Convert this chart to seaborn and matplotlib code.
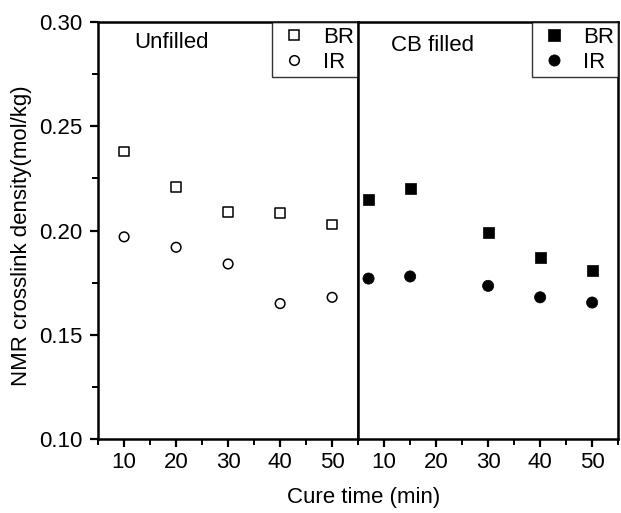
import pandas as pd
import matplotlib.pyplot as plt
import seaborn as sns
from matplotlib.ticker import MultipleLocator

# -----------------------------
# Data
# -----------------------------
unfilled_time = [10, 20, 30, 40, 50]
unfilled_br = [0.238, 0.221, 0.209, 0.2085, 0.203]
unfilled_ir = [0.197, 0.192, 0.184, 0.165, 0.168]

filled_time = [7, 15, 30, 40, 50]
filled_br = [0.215, 0.220, 0.199, 0.187, 0.181]
filled_ir = [0.177, 0.178, 0.1735, 0.168, 0.1655]

df_u = pd.DataFrame({
    "time": unfilled_time * 2,
    "density": unfilled_br + unfilled_ir,
    "rubber": ["BR"] * 5 + ["IR"] * 5,
})
df_f = pd.DataFrame({
    "time": filled_time * 2,
    "density": filled_br + filled_ir,
    "rubber": ["BR"] * 5 + ["IR"] * 5,
})

sns.set_style("ticks")
plt.rcParams["font.family"] = ["Liberation Sans", "DejaVu Sans"]
plt.rcParams["font.size"] = 16
for key in ["text.color", "axes.labelcolor", "xtick.color", "ytick.color", "axes.edgecolor"]:
    plt.rcParams[key] = "black"

fig = plt.figure(figsize=(6.21, 5.13), dpi=100)
ax1 = fig.add_axes([0.158, 0.144, 0.4187, 0.813])
ax2 = fig.add_axes([0.5767, 0.144, 0.4187, 0.813], sharey=ax1)

# Unfilled panel: open markers
sns.scatterplot(data=df_u, x="time", y="density", style="rubber",
                markers={"BR": "s", "IR": "o"}, s=48, facecolor="white",
                edgecolor="black", linewidth=1.1, ax=ax1)
# CB filled panel: solid markers
sns.scatterplot(data=df_f, x="time", y="density", style="rubber",
                markers={"BR": "s", "IR": "o"}, s=65, color="black",
                edgecolor="black", linewidth=0.5, ax=ax2)

for ax in (ax1, ax2):
    ax.set_xlim(5, 55)
    ax.set_ylim(0.10, 0.30)
    ax.xaxis.set_major_locator(MultipleLocator(10))
    ax.xaxis.set_minor_locator(MultipleLocator(5))
    ax.yaxis.set_major_locator(MultipleLocator(0.05))
    ax.yaxis.set_minor_locator(MultipleLocator(0.025))
    ax.tick_params(which="major", direction="out", length=6, width=1.6, labelsize=16)
    ax.tick_params(which="minor", direction="out", length=4, width=1.4)
    for sp in ax.spines.values():
        sp.set_visible(True)
        sp.set_linewidth(1.8)
    ax.set_xlabel("")
    ax.set_ylabel("")
    ax.set_facecolor("white")

ax1.yaxis.set_major_formatter(plt.FormatStrFormatter("%.2f"))
ax1.tick_params(axis="y", pad=5)
ax2.tick_params(axis="y", which="both", left=False, labelleft=False)

ax1.text(0.14, 0.975, "Unfilled", transform=ax1.transAxes, fontsize=16, va="top")
ax2.text(0.125, 0.97, "CB filled", transform=ax2.transAxes, fontsize=16, va="top")

for ax in (ax1, ax2):
    leg = ax.legend(loc="upper right", frameon=True, fancybox=False, fontsize=16,
                    borderaxespad=0, handletextpad=0.5, borderpad=0.2,
                    labelspacing=0.2, handlelength=1.6, title=None)
    leg.get_frame().set_edgecolor("black")
    leg.get_frame().set_linewidth(1.0)

fig.text(0.585, 0.031, "Cure time (min)", ha="center", va="center", fontsize=16)
fig.text(0.034, 0.54, "NMR crosslink density(mol/kg)", ha="center", va="center",
         rotation=90, fontsize=16)

fig.savefig("out.png", dpi=100, facecolor="white")
